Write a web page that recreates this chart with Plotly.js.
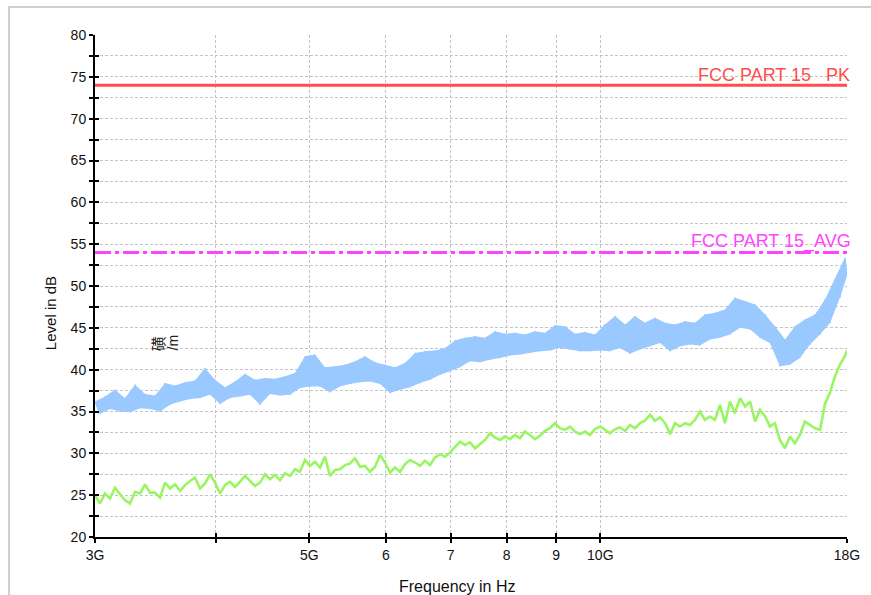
<!DOCTYPE html>
<html>
<head>
<meta charset="utf-8">
<script src="https://cdn.plot.ly/plotly-3.0.1.min.js"></script>
<style>
  html, body { margin: 0; padding: 0; background: #ffffff; }
  #frame { position: absolute; left: 8px; top: 6px; width: 1000px; height: 800px; border: 2px solid #cfcfcf; box-sizing: border-box; }
  #chart { position: absolute; left: 0; top: 0; width: 871px; height: 595px; }
</style>
</head>
<body>
<div id="frame"></div>
<div id="chart"></div>
<script>
// Frequencies in GHz
const freqGHz = [
  3.000,3.036,3.072,3.109,3.146,3.184,3.222,3.261,3.300,3.340,
  3.380,3.420,3.461,3.503,3.545,3.587,3.630,3.674,3.718,3.762,
  3.807,3.853,3.899,3.946,3.993,4.041,4.089,4.138,4.188,4.238,
  4.289,4.340,4.392,4.445,4.498,4.552,4.606,4.661,4.718,4.774,
  4.831,4.889,4.948,5.007,5.067,5.128,5.189,5.251,5.315,5.378,
  5.443,5.508,5.574,5.641,5.708,5.777,5.846,5.916,5.987,6.059,
  6.131,6.205,6.279,6.354,6.431,6.508,6.586,6.665,6.745,6.826,
  6.907,6.990,7.074,7.159,7.244,7.331,7.419,7.508,7.598,7.689,
  7.781,7.874,7.968,8.064,8.161,8.258,8.357,8.458,8.559,8.661,
  8.765,8.870,8.976,9.084,9.193,9.303,9.415,9.528,9.642,9.757,
  9.874,10.00,10.11,10.23,10.36,10.48,10.61,10.73,10.86,10.99,
  11.12,11.26,11.39,11.53,11.67,11.81,11.95,12.09,12.24,12.38,
  12.53,12.68,12.83,12.99,13.14,13.30,13.46,13.62,13.78,13.95,
  14.12,14.29,14.46,14.63,14.81,14.98,15.16,15.34,15.53,15.71,
  15.90,16.09,16.28,16.48,16.68,16.88,17.08,17.29,17.49,17.70,
  17.91,18.00
];

// Peak trace (light blue), dB — alternating upper / lower edge of the noise band
const peakLevel = [
  36.2,34.7,36.8,35.3,37.6,35.0,36.6,34.9,38.2,35.4,
  37.1,35.3,36.9,35.0,38.4,35.8,38.1,36.2,38.5,36.5,
  38.7,36.6,40.2,37.0,38.8,35.9,37.9,36.6,38.6,36.8,
  39.5,37.0,38.8,35.8,39.0,37.1,38.9,36.9,39.2,37.0,
  39.6,37.8,41.6,38.0,41.8,38.0,40.3,37.3,40.4,38.0,
  40.6,38.3,41.0,38.5,41.6,38.6,40.9,38.3,40.6,37.2,
  40.3,37.6,40.8,37.9,42.0,38.4,42.2,38.8,42.3,39.4,
  42.6,39.8,43.5,40.3,43.8,41.0,44.0,40.9,43.8,41.2,
  44.6,41.4,44.3,41.7,44.4,41.8,44.2,42.0,44.6,42.2,
  44.4,42.3,45.3,42.6,45.2,42.4,44.3,42.2,44.5,42.2,
  44.2,42.3,45.4,42.2,46.4,42.6,45.4,41.9,46.4,42.4,
  45.6,42.8,46.2,43.2,45.6,42.2,45.4,42.8,45.8,43.0,
  45.6,42.9,46.6,43.6,46.8,43.8,47.2,44.2,48.6,45.0,
  48.2,44.8,47.8,43.8,46.6,43.2,45.2,40.4,43.6,40.6,
  45.2,41.4,46.0,43.0,46.6,44.2,48.4,45.6,50.8,48.6,
  53.4,51.2
];

// Average trace (light green), dB
const avgLevel = [
  25.0,24.0,25.2,24.6,25.9,25.1,24.4,24.0,25.4,25.2,
  26.3,25.3,25.3,24.7,26.5,25.8,26.3,25.5,26.2,26.7,
  27.1,25.8,26.4,27.5,26.5,25.2,26.2,26.6,26.0,26.6,
  27.3,26.7,26.1,26.5,27.5,26.9,27.4,26.8,27.6,27.3,
  28.1,27.8,29.2,28.5,29.0,28.3,29.6,27.3,28.0,28.1,
  28.6,28.8,29.4,28.4,28.5,27.8,28.4,29.8,28.9,27.7,
  28.3,27.8,28.7,29.2,28.9,28.5,29.1,28.6,29.5,29.9,
  29.6,30.1,30.7,31.4,31.0,31.3,30.6,31.1,31.6,32.4,
  31.9,31.6,32.0,31.7,32.2,31.8,32.6,32.2,31.7,32.1,
  32.7,33.0,33.6,33.0,32.8,33.2,32.6,32.3,32.6,32.2,
  32.9,33.2,32.8,32.4,32.9,33.1,32.7,33.4,33.0,33.6,
  33.9,34.6,33.9,34.3,33.6,32.3,33.6,33.2,33.6,33.4,
  34.0,35.0,34.0,34.4,34.0,35.8,33.6,36.2,34.8,36.6,
  35.6,36.2,33.8,35.2,34.4,33.2,33.6,31.6,30.6,32.0,
  31.2,32.2,33.8,33.4,33.0,32.8,35.9,37.3,39.2,40.6,
  41.6,42.3
];

// Limit lines
const limitFreq = [3, 18];
const pkLimit = [74, 74];
const avgLimit = [54, 54];
const pkLabel = 'FCC PART 15   PK';
const avgLabel = 'FCC PART 15_AVG';

// Axis ticks
const xTickVals = [3, 4, 5, 6, 7, 8, 9, 10, 18];
const xTickText = ['3G', '', '5G', '6', '7', '8', '9', '10G', '18G'];
const yTickVals = [20, 22.5, 25, 27.5, 30, 32.5, 35, 37.5, 40, 42.5, 45, 47.5, 50, 52.5, 55, 57.5, 60, 62.5, 65, 67.5, 70, 72.5, 75, 77.5, 80];
const yTickText = ['20', '', '25', '', '30', '', '35', '', '40', '', '45', '', '50', '', '55', '', '60', '', '65', '', '70', '', '75', '', '80'];

const FONT = 'Arial, "Liberation Sans", sans-serif';
const xRange = [Math.log10(limitFreq[0]), Math.log10(limitFreq[1])];
const yRange = [20, 80];
const BLUE = '#99c9ff';

// Upper / lower edges of the blue noise band (from the alternating samples)
const upF = [], upV = [], loF = [], loV = [];
peakLevel.forEach((v, i) => {
  if (i % 2 === 0) { upF.push(freqGHz[i]); upV.push(v); }
  else { loF.push(freqGHz[i]); loV.push(v); }
});

const traces = [
  { x: upF, y: upV, type: 'scatter', mode: 'lines', line: { color: BLUE, width: 0 }, hoverinfo: 'skip' },
  { x: loF, y: loV, type: 'scatter', mode: 'lines', line: { color: BLUE, width: 0 }, fill: 'tonexty', fillcolor: BLUE, hoverinfo: 'skip' },
  { x: freqGHz, y: peakLevel, type: 'scatter', mode: 'lines', line: { color: BLUE, width: 1.4 }, hoverinfo: 'skip' },
  { x: freqGHz, y: avgLevel, type: 'scatter', mode: 'lines', line: { color: '#99f562', width: 2.6 }, hoverinfo: 'skip' },
  { x: limitFreq, y: pkLimit, type: 'scatter', mode: 'lines', line: { color: '#ff4d4d', width: 3 }, hoverinfo: 'skip' },
  { x: limitFreq, y: avgLimit, type: 'scatter', mode: 'lines', line: { color: '#ff44ff', width: 3, dash: '16px,4px,4px,4px' }, hoverinfo: 'skip' },
  // invisible trace that activates the overlay axes carrying the inner tick marks
  { x: limitFreq, y: pkLimit, xaxis: 'x2', yaxis: 'y2', type: 'scatter', mode: 'lines', line: { width: 0 }, opacity: 0, hoverinfo: 'skip' }
];

const layout = {
  width: 871, height: 595,
  margin: { l: 95, r: 24, t: 35, b: 58 },
  paper_bgcolor: 'rgba(0,0,0,0)',
  plot_bgcolor: '#ffffff',
  showlegend: false,
  font: { family: FONT, size: 14, color: '#111111' },
  xaxis: {
    type: 'log', range: xRange,
    tickmode: 'array', tickvals: xTickVals, ticktext: xTickText,
    ticks: 'outside', ticklen: 4, tickwidth: 2, tickcolor: '#000000',
    showline: true, linecolor: '#000000', linewidth: 2, mirror: false,
    showgrid: true, gridcolor: '#c4c4c4', gridwidth: 1, griddash: '3px,2px',
    zeroline: false, tickfont: { family: FONT, size: 14, color: '#111111' }
  },
  yaxis: {
    range: yRange,
    tickmode: 'array', tickvals: yTickVals, ticktext: yTickText,
    ticks: 'outside', ticklen: 4, tickwidth: 2, tickcolor: '#000000',
    showline: true, linecolor: '#000000', linewidth: 2, mirror: false,
    showgrid: true, gridcolor: '#c4c4c4', gridwidth: 1, griddash: '3px,2px',
    zeroline: false, tickfont: { family: FONT, size: 14, color: '#111111' }
  },
  xaxis2: {
    type: 'log', range: xRange, overlaying: 'x', anchor: 'y2', side: 'bottom',
    tickmode: 'array', tickvals: xTickVals, showticklabels: false,
    ticks: 'inside', ticklen: 4, tickwidth: 2, tickcolor: '#000000',
    showline: false, showgrid: false, zeroline: false
  },
  yaxis2: {
    range: yRange, overlaying: 'y', anchor: 'x2', side: 'left',
    tickmode: 'array', tickvals: yTickVals, showticklabels: false,
    ticks: 'inside', ticklen: 4, tickwidth: 2, tickcolor: '#000000',
    showline: false, showgrid: false, zeroline: false
  },
  annotations: [
    { text: pkLabel, xref: 'paper', x: 1, xanchor: 'right', xshift: 5, yref: 'y', y: pkLimit[0] + 1.25, yanchor: 'middle',
      showarrow: false, font: { family: FONT, size: 18, color: '#ff4d4d' } },
    { text: avgLabel, xref: 'paper', x: 1, xanchor: 'right', xshift: 6, yref: 'y', y: avgLimit[0] + 1.3, yanchor: 'middle',
      showarrow: false, font: { family: FONT, size: 18, color: '#ff44ff' } },
    { text: 'Level in dB', xref: 'paper', yref: 'paper', x: -0.0598, y: 0.446, textangle: -90,
      xanchor: 'center', yanchor: 'middle', showarrow: false, font: { family: FONT, size: 15, color: '#111111' } },
    { text: 'Frequency in Hz', xref: 'paper', yref: 'paper', x: 0.4827, y: -0.0996,
      xanchor: 'center', yanchor: 'middle', showarrow: false, font: { family: FONT, size: 16, color: '#111111' } },
    { text: '磺', xref: 'paper', yref: 'paper', x: 0.0842, y: 0.3848, textangle: -90,
      xanchor: 'center', yanchor: 'middle', showarrow: false, font: { family: '"Noto Sans CJK SC", sans-serif', size: 15, color: '#222222' } },
    { text: '/m', xref: 'paper', yref: 'paper', x: 0.1037, y: 0.3875, textangle: -90,
      xanchor: 'center', yanchor: 'middle', showarrow: false, font: { family: FONT, size: 14, color: '#222222' } }
  ]
};

Plotly.newPlot('chart', traces, layout, { staticPlot: true, displayModeBar: false });
</script>
</body>
</html>
